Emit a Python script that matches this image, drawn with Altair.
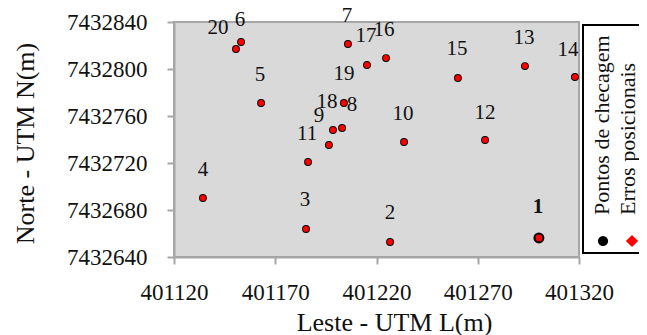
import altair as alt
import pandas as pd

# ---- data ----
ponto = list(range(1, 21))
leste = [401300.2, 401226.7, 401185.2, 401134.3, 401163.0, 401153.1, 401205.9,
         401203.0, 401196.5, 401233.6, 401186.2, 401273.6, 401293.3, 401318.0,
         401260.2, 401224.7, 401215.3, 401198.5, 401203.9, 401150.6]
norte = [7432656.2, 7432652.8, 7432663.8, 7432690.2, 7432771.1, 7432823.0,
         7432821.3, 7432749.8, 7432735.3, 7432737.9, 7432720.8, 7432739.6,
         7432802.5, 7432793.2, 7432792.3, 7432809.3, 7432803.4, 7432748.1,
         7432771.1, 7432817.0]
x_ticks = [401120, 401170, 401220, 401270, 401320]
y_ticks = [7432640, 7432680, 7432720, 7432760, 7432800, 7432840]
legend_labels = ["Pontos de checagem", "Erros posicionais"]

df = pd.DataFrame({"ponto": ponto, "leste": leste, "norte": norte})

# ---- styling (label nudges in pixels) ----
LABEL_NUDGE = {1: (-1, -31), 2: (0, -29), 3: (-1, -29), 4: (0, -28), 5: (-1, -28),
               6: (-1, -22), 7: (-1, -28), 8: (10, -23), 9: (-10, -29), 10: (-1, -28),
               11: (-1, -28), 12: (0, -27), 13: (-1, -28), 14: (-7, -27), 15: (-1, -29),
               16: (-2, -28), 17: (-1, -29), 18: (-6, -28), 19: (0, -29), 20: (-18, -21)}
FONT = "Liberation Serif"
W, H = 405, 235

xs = alt.Scale(domain=[x_ticks[0], x_ticks[-1]], nice=False, zero=False)
ys = alt.Scale(domain=[y_ticks[0], y_ticks[-1]], nice=False, zero=False)

xenc = alt.X("leste:Q", scale=xs, axis=alt.Axis(
    values=x_ticks, format="d", title="Leste - UTM L(m)", grid=False,
    domainColor="#a6a6a6", domainWidth=2, tickColor="#a6a6a6", tickWidth=2, tickSize=7,
    labelFont=FONT, labelFontSize=23, labelColor="#111", labelPadding=28,
    labelBaseline="middle", labelFlush=False,
    titleFont=FONT, titleFontSize=26, titleFontWeight="normal", titleColor="#111",
    titleX=220, titleY=65, titleBaseline="middle", titleAlign="center"))
yenc = alt.Y("norte:Q", scale=ys, axis=alt.Axis(
    values=y_ticks, format="d", title="Norte - UTM N(m)", grid=False,
    domainColor="#a6a6a6", domainWidth=2, tickColor="#a6a6a6", tickWidth=2, tickSize=7,
    labelFont=FONT, labelFontSize=23, labelColor="#111", labelPadding=20,
    labelFlush=False,
    titleFont=FONT, titleFontSize=26, titleFontWeight="normal", titleColor="#111",
    titleX=-149, titleY=121, titleBaseline="middle", titleAlign="center", titleAngle=270))

base = alt.Chart(df)

black_pts = base.mark_circle(color="#000000", opacity=1).encode(
    x=xenc, y=yenc,
    size=alt.condition(alt.datum.ponto == 1, alt.value(120), alt.value(62)))
red_pts = base.mark_circle(color="#ff0000", opacity=1).encode(
    x="leste:Q", y="norte:Q",
    size=alt.condition(alt.datum.ponto == 1, alt.value(45), alt.value(36)))

label_layers = []
for p in ponto:
    dx, dy = LABEL_NUDGE[p]
    label_layers.append(
        base.transform_filter(alt.datum.ponto == p).mark_text(
            font=FONT, fontSize=21, color="#111", dx=dx, dy=dy,
            fontWeight="bold" if p == 1 else "normal",
            align="center", baseline="middle").encode(
            x="leste:Q", y="norte:Q", text="ponto:N"))

# ---- manual legend box (outside plot, at right) ----
leg_df = pd.DataFrame({"k": [0]})
leg = alt.Chart(leg_df)
leg_box = leg.mark_rect(fill="white", stroke="black", strokeWidth=2).encode(
    x=alt.value(409), x2=alt.value(500), y=alt.value(3), y2=alt.value(231))
leg_circle = leg.mark_point(shape="circle", filled=True, color="black", size=105, opacity=1).encode(
    x=alt.value(429), y=alt.value(219))
leg_diamond = leg.mark_point(shape="diamond", filled=True, color="#ff0000", size=150, opacity=1).encode(
    x=alt.value(458), y=alt.value(219))
leg_t1 = leg.mark_text(font=FONT, fontSize=22, color="#111", angle=270, align="left",
                       baseline="middle", text=legend_labels[0]).encode(
    x=alt.value(428), y=alt.value(193))
leg_t2 = leg.mark_text(font=FONT, fontSize=22, color="#111", angle=270, align="left",
                       baseline="middle", text=legend_labels[1]).encode(
    x=alt.value(454), y=alt.value(193))

chart = alt.layer(black_pts, red_pts, *label_layers,
                  leg_box, leg_circle, leg_diamond, leg_t1, leg_t2).properties(
    width=W, height=H,
    autosize=alt.AutoSizeParams(type="none"),
    padding={"left": 166, "top": 14, "right": 60, "bottom": 78},
    background="white",
).configure_view(fill="#d9d9d9", stroke="#a6a6a6", strokeWidth=2)

chart.save("out.html", embed_options={"renderer": "svg", "actions": False})
